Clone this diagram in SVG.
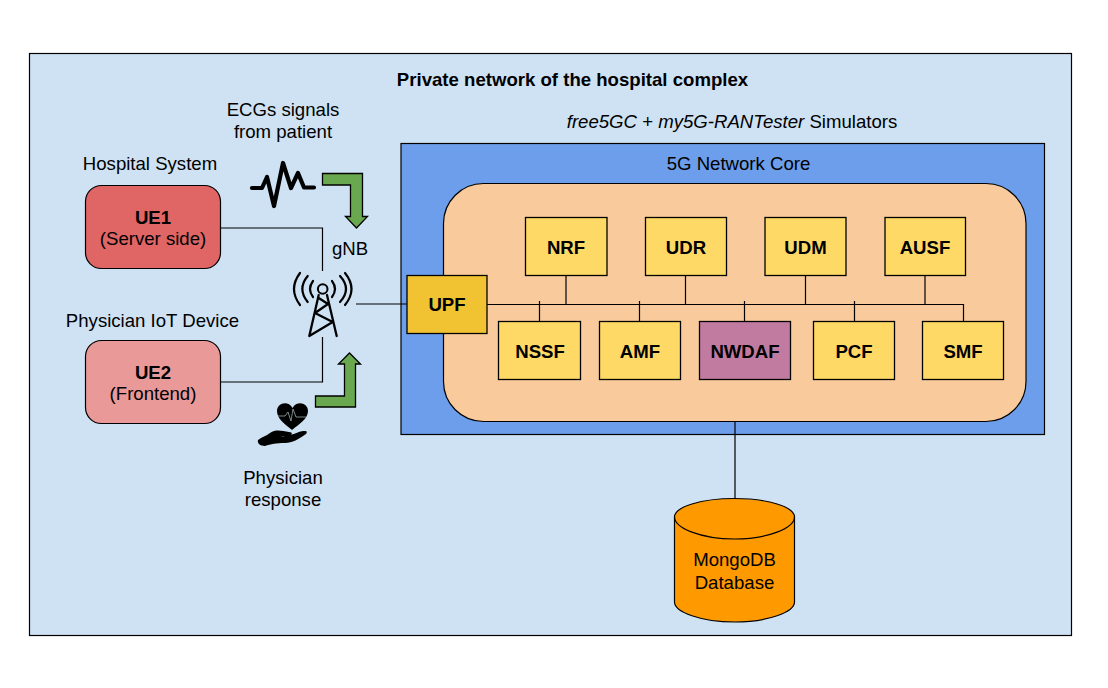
<svg xmlns="http://www.w3.org/2000/svg" width="1108" height="688" viewBox="0 0 1108 688">
<style>
text{font-family:"Liberation Sans",Arial,sans-serif;font-size:18.6px;fill:#000;text-anchor:middle}
.b{font-weight:700}
.nf{fill:#ffd966;stroke:#000;stroke-width:1.3}
.c{fill:none;stroke:#000;stroke-width:1.2}
.arr{fill:#6aa84f;stroke:#000;stroke-width:1.3}
.ic{fill:none;stroke:#000;stroke-linecap:round;stroke-linejoin:round}
</style>
<rect width="1108" height="688" fill="#fff"/>
<g id="network"><rect x="29.500" y="53.500" width="1042" height="582" fill="#cfe2f3" stroke="#000" stroke-width="1.200"/>
<text x="572.500" y="85.500" class="b">Private network of the hospital complex</text></g>
<g id="core"><rect x="401" y="143.500" width="643.500" height="291" fill="#6d9eeb" stroke="#000" stroke-width="1.200"/>
<text x="738.500" y="169.500">5G Network Core</text></g>
<g id="core-inner"><rect x="443.500" y="183.500" width="582.500" height="238" rx="40" fill="#f9cb9c" stroke="#000" stroke-width="1.200"/></g>
<text x="732" y="127.500"><tspan font-style="italic">free5GC</tspan> + <tspan font-style="italic">my5G-RANTester</tspan> Simulators</text>
<g id="connectors">
<path class="c" d="M221 228H322.500V271M221 382H322.500V337M356 304H407M486 304.500H963.500V321M566 275V304.500M685.500 275V304.500M805.500 275V304.500M925 275V304.500M539.500 301V321M639.500 301V321M744.500 301V321M854.500 301V321M735 421V498"/>
</g>
<g id="ue1"><rect x="85.500" y="185.500" width="135" height="83" rx="16" fill="#e06666" stroke="#000" stroke-width="1.200"/>
<text x="153" y="223.500" class="b">UE1</text><text x="153" y="244.500">(Server side)</text></g>
<g id="ue2"><rect x="85.500" y="340.500" width="135" height="83" rx="16" fill="#ea9999" stroke="#000" stroke-width="1.200"/>
<text x="153" y="378.500" class="b">UE2</text><text x="153" y="400">(Frontend)</text></g>
<text x="150" y="170">Hospital System</text>
<text x="152.500" y="326.500">Physician IoT Device</text>
<text x="283" y="115.500">ECGs signals</text><text x="283" y="138">from patient</text>
<text x="350" y="255">gNB</text>
<text x="283" y="483.500">Physician</text><text x="283" y="505.500">response</text>
<g id="ecg-icon"><path class="ic" stroke-width="4.200" d="M252 188H262L267 177L274 206L283 163L291 188L298 173L304 187.500H314"/></g>
<g id="arrow-down"><path class="arr" d="M322.500 173.500H362.500V216.500H367.500L356.500 228L345.500 216.500H350.500V185H322.500Z"/></g>
<g id="arrow-up"><path class="arr" d="M315.500 407V396H344.500V364H338.500L349.500 353L360.500 364H355.500V407Z"/></g>
<g id="tower-icon">
<circle cx="322.700" cy="289" r="4.800" class="ic" stroke-width="2"/>
<path class="ic" stroke-width="2.300" d="M318.700 295L309.300 336M327 295L336.700 336M318.700 298L328 304L315 313L332.700 322L309.300 336"/>
<path class="ic" stroke-width="2.200" d="M313 281Q307 289 313 297M332 281Q338 289 332 297M307.700 276Q297 289 307.700 302M340 276Q352 289 340 302"/>
<path class="ic" stroke-width="2.200" d="M300 273Q288 289 300 305M345 273Q358 289 345 305"/>
</g>
<g id="heart-icon">
<path fill="#000" d="M292 430C285 424 277 419 277 411C277 403 288 400 292.500 408C297 400 308 403 308 411C308 419 299 424 292 430Z"/>
<path d="M278 416H285L288 412L291 421L293 409L296 417H306" fill="none" stroke="#9aa" stroke-width="0.800"/>
<path fill="#000" d="M258 440C262 437 266 436 270 433C276 429 282 431 289 432C293 432 293 435 288 436L281 436C287 437 293 434 299 432C303 431 309 430 306 434C299 439 292 443 285 443C276 443 271 444 265 446C260 446 257 443 258 440Z"/>
</g>
<g id="upf"><rect x="407" y="275.500" width="80" height="58" fill="#f1c232" stroke="#000" stroke-width="1.300"/><text x="447" y="311" class="b">UPF</text></g>
<g id="nrf"><rect class="nf" x="525.500" y="217.500" width="81.500" height="58"/><text x="566" y="253.500" class="b">NRF</text></g>
<g id="udr"><rect class="nf" x="645.500" y="217.500" width="81" height="58"/><text x="686" y="253.500" class="b">UDR</text></g>
<g id="udm"><rect class="nf" x="765" y="217.500" width="81" height="58"/><text x="805.500" y="253.500" class="b">UDM</text></g>
<g id="ausf"><rect class="nf" x="885" y="217.500" width="80.500" height="58"/><text x="925" y="253.500" class="b">AUSF</text></g>
<g id="nssf"><rect class="nf" x="498.500" y="321.500" width="82" height="58"/><text x="540" y="357.500" class="b">NSSF</text></g>
<g id="amf"><rect class="nf" x="599.500" y="321.500" width="81" height="58"/><text x="640" y="357.500" class="b">AMF</text></g>
<g id="nwdaf"><rect x="699.500" y="321.500" width="91" height="58" fill="#c27ba0" stroke="#000" stroke-width="1.300"/><text x="745" y="357.500" class="b">NWDAF</text></g>
<g id="pcf"><rect class="nf" x="813.500" y="321.500" width="81" height="58"/><text x="854" y="357.500" class="b">PCF</text></g>
<g id="smf"><rect class="nf" x="922.500" y="321.500" width="81" height="58"/><text x="963" y="357.500" class="b">SMF</text></g>
<g id="mongodb"><path d="M674.500 517C674.500 507 701 498.500 734.500 498.500C768 498.500 794.500 507 794.500 517V602C794.500 612 768 622 734.500 622C701 622 674.500 612 674.500 602Z" fill="#ff9900" stroke="#000" stroke-width="1.200"/>
<path d="M674.500 517C674.500 528 701 539 734.500 539C768 539 794.500 528 794.500 517" fill="none" stroke="#000" stroke-width="1.200"/>
<text x="734.500" y="566">MongoDB</text><text x="734.500" y="588.500">Database</text></g>
</svg>
